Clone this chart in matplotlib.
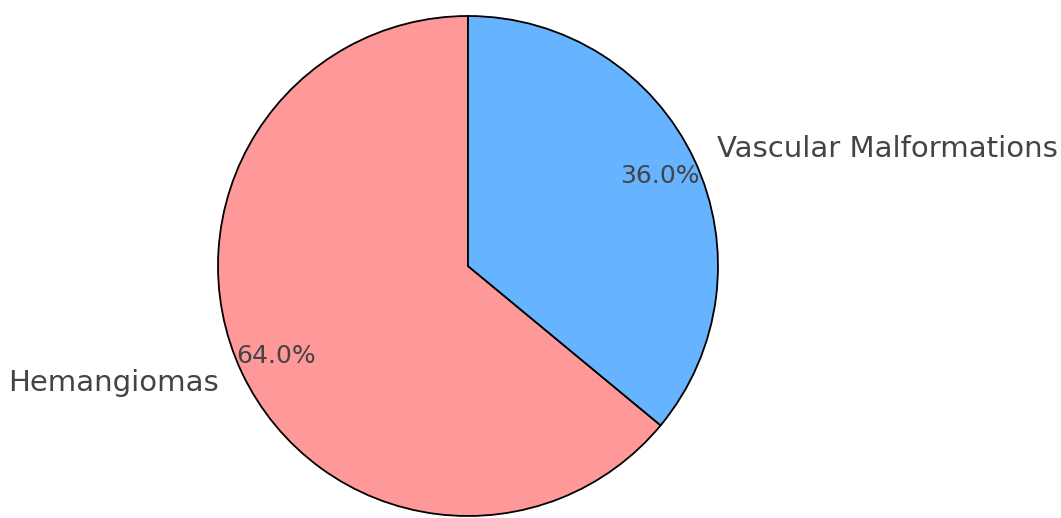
import numpy as np
import matplotlib.pyplot as plt

#### Data ####
labels = ['Hemangiomas', 'Vascular Malformations']
values = [64, 36]
colors = ['#ff9999', '#66b3ff']

#### Figure ####
W, H = 1061, 518
fig = plt.figure(figsize=(W / 100, H / 100), dpi=100)
ax = fig.add_axes([0, 0, 1, 1])

wedges, texts, autotexts = ax.pie(values, labels=labels, colors=colors,
                                  autopct='%1.1f%%', startangle=90,
                                  pctdistance=0.85, labeldistance=1.1,
                                  wedgeprops={'edgecolor': 'black', 'linewidth': 1.3},
                                  textprops={'color': '#444444'})
for t in texts:
    t.set_fontsize(21)
for t in autotexts:
    t.set_fontsize(18)

#### Place pie: centre (468, 266) px from top-left, radius 250 px ####
cx, cy, r = 468, 266, 250
ax.set_aspect('auto')
ax.set_xlim(-cx / r, (W - cx) / r)
ax.set_ylim(-(H - cy) / r, cy / r)
ax.axis('off')

fig.savefig('out.png', dpi=100)
